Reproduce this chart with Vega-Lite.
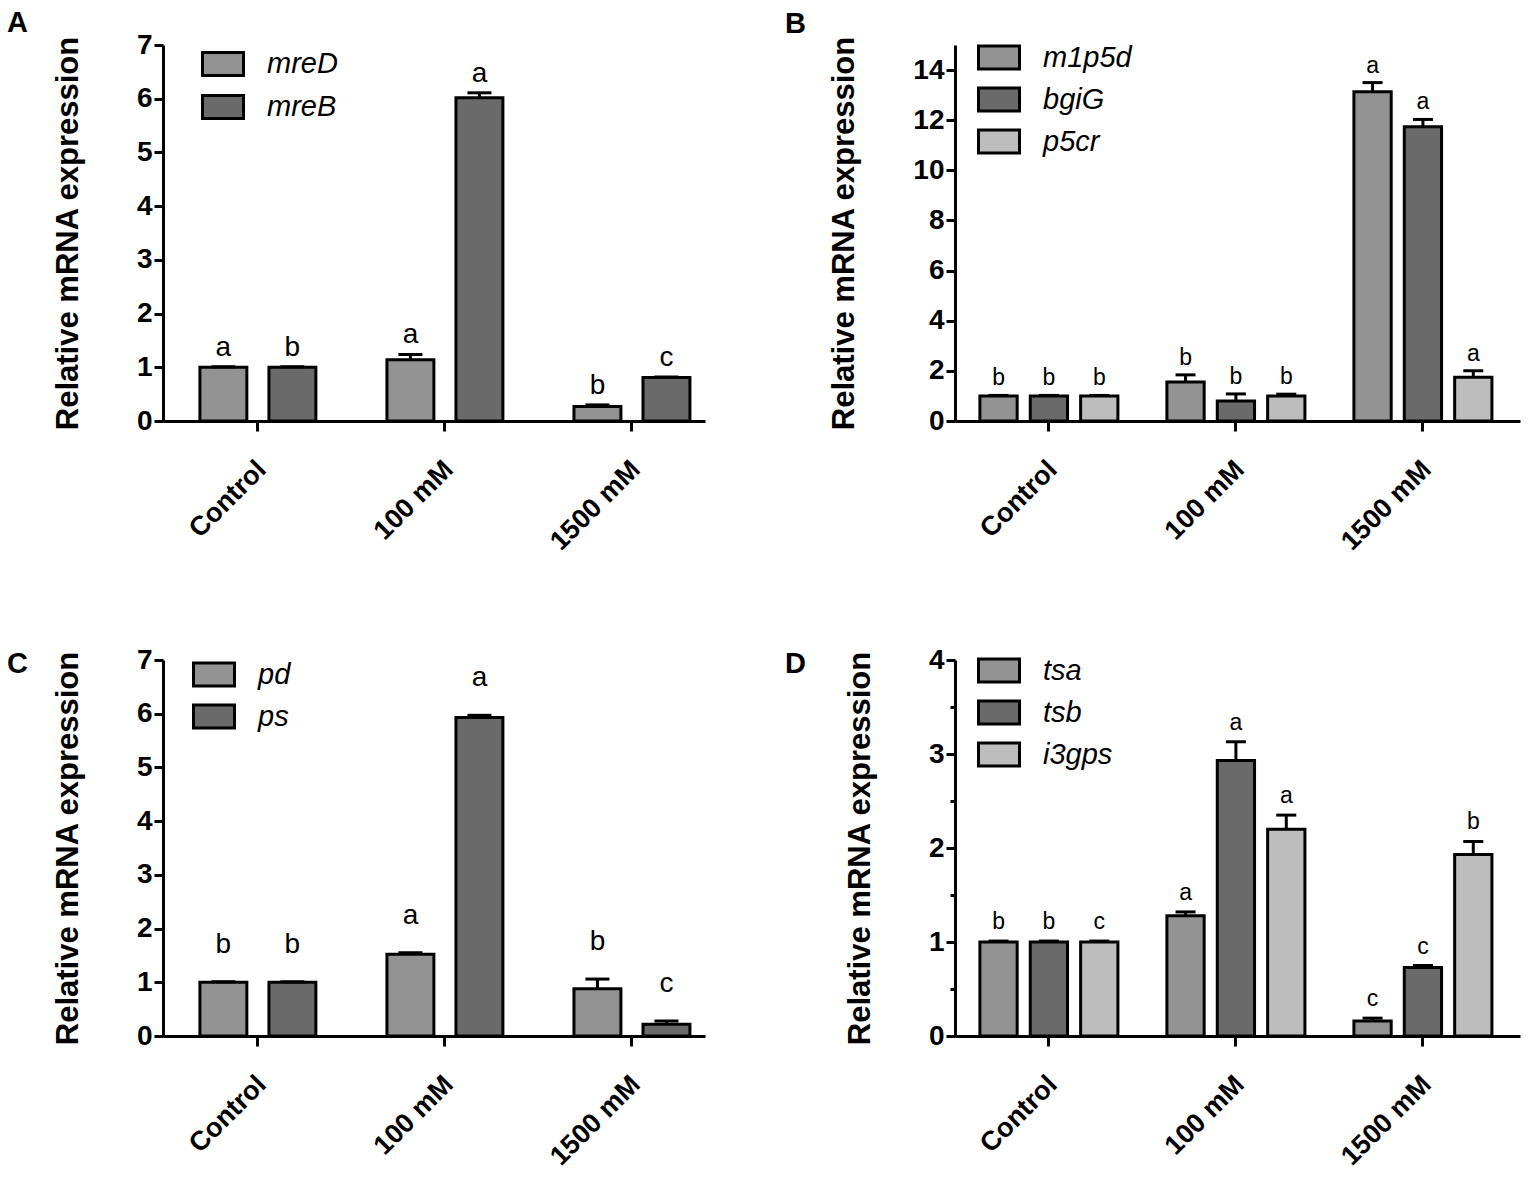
{
  "$schema": "https://vega.github.io/schema/vega-lite/v6.json",
  "background": "white",
  "padding": {"left": 7, "top": 9, "right": 5, "bottom": 5},
  "columns": 2,
  "spacing": {"row": 239, "column": 250},
  "bounds": "flush",
  "resolve": {"scale": {"color": "independent", "x": "independent", "y": "independent", "xOffset": "independent"}, "legend": {"color": "independent"}},
  "config": {
    "view": {"stroke": null},
    "font": "Liberation Sans",
    "axis": {"domainColor": "black", "domainWidth": 3, "tickColor": "black", "tickWidth": 3, "labelColor": "black", "labelFont": "Liberation Sans", "labelFontWeight": "bold", "titleFont": "Liberation Sans", "titleColor": "black", "grid": false},
    "axisX": {"labelAngle": -45, "labelAlign": "right", "labelBaseline": "middle", "labelFontSize": 27, "tickSize": 10, "labelPadding": 34, "labelOffset": 4, "title": null, "bandPosition": 0.5},
    "axisY": {"labelFontSize": 28, "labelPadding": 2, "titleFontSize": 31, "titleFontWeight": "bold", "titlePadding": 52, "labelFlush": false, "labelOverlap": false},
    "legend": {"orient": "none", "title": null, "symbolType": "M-1,-0.56H1V0.56H-1Z", "symbolSize": 1681, "symbolStrokeColor": "black", "symbolStrokeWidth": 3, "symbolOpacity": 1, "labelFontSize": 29, "labelFontStyle": "italic", "labelFont": "Liberation Sans", "labelColor": "black", "labelOffset": 22, "rowPadding": 3, "padding": 0},
    "title": {"anchor": "start", "frame": "group", "fontSize": 29, "fontWeight": "bold", "font": "Liberation Sans", "color": "black", "baseline": "alphabetic"},
    "text": {"font": "Liberation Sans", "color": "black"}
  },
  "concat": [
    {
      "title": {"text": "A", "dx": -156, "offset": -7},
      "width": 542, "height": 376,
      "data": {"values": [
        {"group": "Control", "gene": "mreD", "value": 1.0, "cap": 1.01, "sig": "a"},
        {"group": "Control", "gene": "mreB", "value": 1.0, "cap": 1.01, "sig": "b"},
        {"group": "100 mM", "gene": "mreD", "value": 1.14, "cap": 1.24, "sig": "a"},
        {"group": "100 mM", "gene": "mreB", "value": 6.02, "cap": 6.11, "sig": "a"},
        {"group": "1500 mM", "gene": "mreD", "value": 0.27, "cap": 0.3, "sig": "b"},
        {"group": "1500 mM", "gene": "mreB", "value": 0.81, "cap": 0.82, "sig": "c"}
      ]},
      "encoding": {
        "x": {"field": "group", "type": "nominal", "sort": ["Control", "100 mM", "1500 mM"], "scale": {"paddingInner": 0.38, "paddingOuter": 0.139, "align": 0.71}},
        "xOffset": {"field": "gene", "type": "nominal", "sort": ["mreD", "mreB"], "scale": {"paddingInner": 0.32, "paddingOuter": 0}}
      },
      "layer": [
        {"mark": {"type": "bar", "stroke": "black", "strokeWidth": 3, "opacity": 1},
         "encoding": {
           "y": {"field": "value", "type": "quantitative", "stack": null, "scale": {"domain": [0, 7], "nice": false},
                 "axis": {"title": "Relative mRNA expression", "values": [0, 0.5, 1, 1.5, 2, 2.5, 3, 3.5, 4, 4.5, 5, 5.5, 6, 6.5, 7], "labelExpr": "datum.value % 1 ? '' : format(datum.value, 'd')", "tickSize": {"condition": {"test": "datum.value % 1 !== 0", "value": 5}, "value": 9}}},
           "color": {"field": "gene", "type": "nominal", "sort": ["mreD", "mreB"], "scale": {"range": ["#939393", "#6a6a6a"]}, "legend": {"legendX": 38, "legendY": -3}}
         }},
        {"mark": {"type": "rule", "strokeWidth": 3, "color": "black"},
         "encoding": {"y": {"field": "value", "type": "quantitative"}, "y2": {"field": "cap"}}},
        {"mark": {"type": "tick", "thickness": 3, "size": 24, "color": "black", "opacity": 1},
         "encoding": {"y": {"field": "cap", "type": "quantitative"}}},
        {"mark": {"type": "text", "fontSize": 28, "baseline": "alphabetic", "dy": -11},
         "encoding": {"y": {"field": "cap", "type": "quantitative"}, "text": {"field": "sig"}}}
      ]
    },
    {
      "title": {"text": "B", "dx": -170, "offset": -3.5},
      "width": 565, "height": 376,
      "data": {"values": [
        {"group": "Control", "gene": "m1p5d", "value": 1.0, "cap": 1.02, "sig": "b"},
        {"group": "Control", "gene": "bgiG", "value": 1.0, "cap": 1.02, "sig": "b"},
        {"group": "Control", "gene": "p5cr", "value": 1.0, "cap": 1.02, "sig": "b"},
        {"group": "100 mM", "gene": "m1p5d", "value": 1.56, "cap": 1.84, "sig": "b"},
        {"group": "100 mM", "gene": "bgiG", "value": 0.8, "cap": 1.08, "sig": "b"},
        {"group": "100 mM", "gene": "p5cr", "value": 1.0, "cap": 1.07, "sig": "b"},
        {"group": "1500 mM", "gene": "m1p5d", "value": 13.13, "cap": 13.5, "sig": "a"},
        {"group": "1500 mM", "gene": "bgiG", "value": 11.74, "cap": 12.03, "sig": "a"},
        {"group": "1500 mM", "gene": "p5cr", "value": 1.75, "cap": 2.0, "sig": "a"}
      ]},
      "encoding": {
        "x": {"field": "group", "type": "nominal", "sort": ["Control", "100 mM", "1500 mM"], "scale": {"paddingInner": 0.262, "paddingOuter": 0.1416, "align": 0.47}},
        "xOffset": {"field": "gene", "type": "nominal", "sort": ["m1p5d", "bgiG", "p5cr"], "scale": {"paddingInner": 0.26, "paddingOuter": 0}}
      },
      "layer": [
        {"mark": {"type": "bar", "stroke": "black", "strokeWidth": 3, "opacity": 1},
         "encoding": {
           "y": {"field": "value", "type": "quantitative", "stack": null, "scale": {"domain": [0, 15], "nice": false},
                 "axis": {"title": "Relative mRNA expression", "values": [0, 1, 2, 3, 4, 5, 6, 7, 8, 9, 10, 11, 12, 13, 14], "labelExpr": "datum.value % 2 ? '' : format(datum.value, 'd')", "tickSize": {"condition": {"test": "datum.value % 2 !== 0", "value": 5}, "value": 9}}},
           "color": {"field": "gene", "type": "nominal", "sort": ["m1p5d", "bgiG", "p5cr"], "scale": {"range": ["#939393", "#6a6a6a", "#bdbdbd"]}, "legend": {"legendX": 22, "legendY": -9.5, "rowPadding": 2}}
         }},
        {"mark": {"type": "rule", "strokeWidth": 3, "color": "black"},
         "encoding": {"y": {"field": "value", "type": "quantitative"}, "y2": {"field": "cap"}}},
        {"mark": {"type": "tick", "thickness": 3, "size": 20, "color": "black", "opacity": 1},
         "encoding": {"y": {"field": "cap", "type": "quantitative"}}},
        {"mark": {"type": "text", "fontSize": 23, "baseline": "alphabetic", "dy": -10},
         "encoding": {"y": {"field": "cap", "type": "quantitative"}, "text": {"field": "sig"}}}
      ]
    },
    {
      "title": {"text": "C", "dx": -156, "offset": -33},
      "width": 542, "height": 376,
      "data": {"values": [
        {"group": "Control", "gene": "pd", "value": 1.0, "cap": 1.01, "sig": "b"},
        {"group": "Control", "gene": "ps", "value": 1.0, "cap": 1.01, "sig": "b"},
        {"group": "100 mM", "gene": "pd", "value": 1.52, "cap": 1.55, "sig": "a"},
        {"group": "100 mM", "gene": "ps", "value": 5.93, "cap": 5.97, "sig": "a"},
        {"group": "1500 mM", "gene": "pd", "value": 0.88, "cap": 1.06, "sig": "b"},
        {"group": "1500 mM", "gene": "ps", "value": 0.22, "cap": 0.28, "sig": "c"}
      ]},
      "encoding": {
        "x": {"field": "group", "type": "nominal", "sort": ["Control", "100 mM", "1500 mM"], "scale": {"paddingInner": 0.38, "paddingOuter": 0.139, "align": 0.71}},
        "xOffset": {"field": "gene", "type": "nominal", "sort": ["pd", "ps"], "scale": {"paddingInner": 0.32, "paddingOuter": 0}}
      },
      "layer": [
        {"mark": {"type": "bar", "stroke": "black", "strokeWidth": 3, "opacity": 1},
         "encoding": {
           "y": {"field": "value", "type": "quantitative", "stack": null, "scale": {"domain": [0, 7], "nice": false},
                 "axis": {"title": "Relative mRNA expression", "values": [0, 0.5, 1, 1.5, 2, 2.5, 3, 3.5, 4, 4.5, 5, 5.5, 6, 6.5, 7], "labelExpr": "datum.value % 1 ? '' : format(datum.value, 'd')", "tickSize": {"condition": {"test": "datum.value % 1 !== 0", "value": 5}, "value": 9}}},
           "color": {"field": "gene", "type": "nominal", "sort": ["pd", "ps"], "scale": {"range": ["#939393", "#6a6a6a"]}, "legend": {"legendX": 29, "legendY": -7.5, "rowPadding": 2}}
         }},
        {"mark": {"type": "rule", "strokeWidth": 3, "color": "black"},
         "encoding": {"y": {"field": "value", "type": "quantitative"}, "y2": {"field": "cap"}}},
        {"mark": {"type": "tick", "thickness": 3, "size": 24, "color": "black", "opacity": 1},
         "encoding": {"y": {"field": "cap", "type": "quantitative"}}},
        {"mark": {"type": "text", "fontSize": 28, "baseline": "alphabetic", "dy": -29},
         "encoding": {"y": {"field": "cap", "type": "quantitative"}, "text": {"field": "sig"}}}
      ]
    },
    {
      "title": {"text": "D", "dx": -170, "offset": -33},
      "width": 565, "height": 376,
      "data": {"values": [
        {"group": "Control", "gene": "tsa", "value": 1.0, "cap": 1.01, "sig": "b"},
        {"group": "Control", "gene": "tsb", "value": 1.0, "cap": 1.01, "sig": "b"},
        {"group": "Control", "gene": "i3gps", "value": 1.0, "cap": 1.01, "sig": "c"},
        {"group": "100 mM", "gene": "tsa", "value": 1.28, "cap": 1.32, "sig": "a"},
        {"group": "100 mM", "gene": "tsb", "value": 2.93, "cap": 3.13, "sig": "a"},
        {"group": "100 mM", "gene": "i3gps", "value": 2.2, "cap": 2.35, "sig": "a"},
        {"group": "1500 mM", "gene": "tsa", "value": 0.16, "cap": 0.19, "sig": "c"},
        {"group": "1500 mM", "gene": "tsb", "value": 0.73, "cap": 0.75, "sig": "c"},
        {"group": "1500 mM", "gene": "i3gps", "value": 1.93, "cap": 2.07, "sig": "b"}
      ]},
      "encoding": {
        "x": {"field": "group", "type": "nominal", "sort": ["Control", "100 mM", "1500 mM"], "scale": {"paddingInner": 0.262, "paddingOuter": 0.1416, "align": 0.47}},
        "xOffset": {"field": "gene", "type": "nominal", "sort": ["tsa", "tsb", "i3gps"], "scale": {"paddingInner": 0.26, "paddingOuter": 0}}
      },
      "layer": [
        {"mark": {"type": "bar", "stroke": "black", "strokeWidth": 3, "opacity": 1},
         "encoding": {
           "y": {"field": "value", "type": "quantitative", "stack": null, "scale": {"domain": [0, 4], "nice": false},
                 "axis": {"title": "Relative mRNA expression", "values": [0, 0.5, 1, 1.5, 2, 2.5, 3, 3.5, 4], "labelExpr": "datum.value % 1 ? '' : format(datum.value, 'd')", "tickSize": {"condition": {"test": "datum.value % 1 !== 0", "value": 5}, "value": 9}}},
           "color": {"field": "gene", "type": "nominal", "sort": ["tsa", "tsb", "i3gps"], "scale": {"range": ["#939393", "#6a6a6a", "#bdbdbd"]}, "legend": {"legendX": 22, "legendY": -11.5, "rowPadding": 2}}
         }},
        {"mark": {"type": "rule", "strokeWidth": 3, "color": "black"},
         "encoding": {"y": {"field": "value", "type": "quantitative"}, "y2": {"field": "cap"}}},
        {"mark": {"type": "tick", "thickness": 3, "size": 20, "color": "black", "opacity": 1},
         "encoding": {"y": {"field": "cap", "type": "quantitative"}}},
        {"mark": {"type": "text", "fontSize": 23, "baseline": "alphabetic", "dy": -12},
         "encoding": {"y": {"field": "cap", "type": "quantitative"}, "text": {"field": "sig"}}}
      ]
    }
  ]
}
